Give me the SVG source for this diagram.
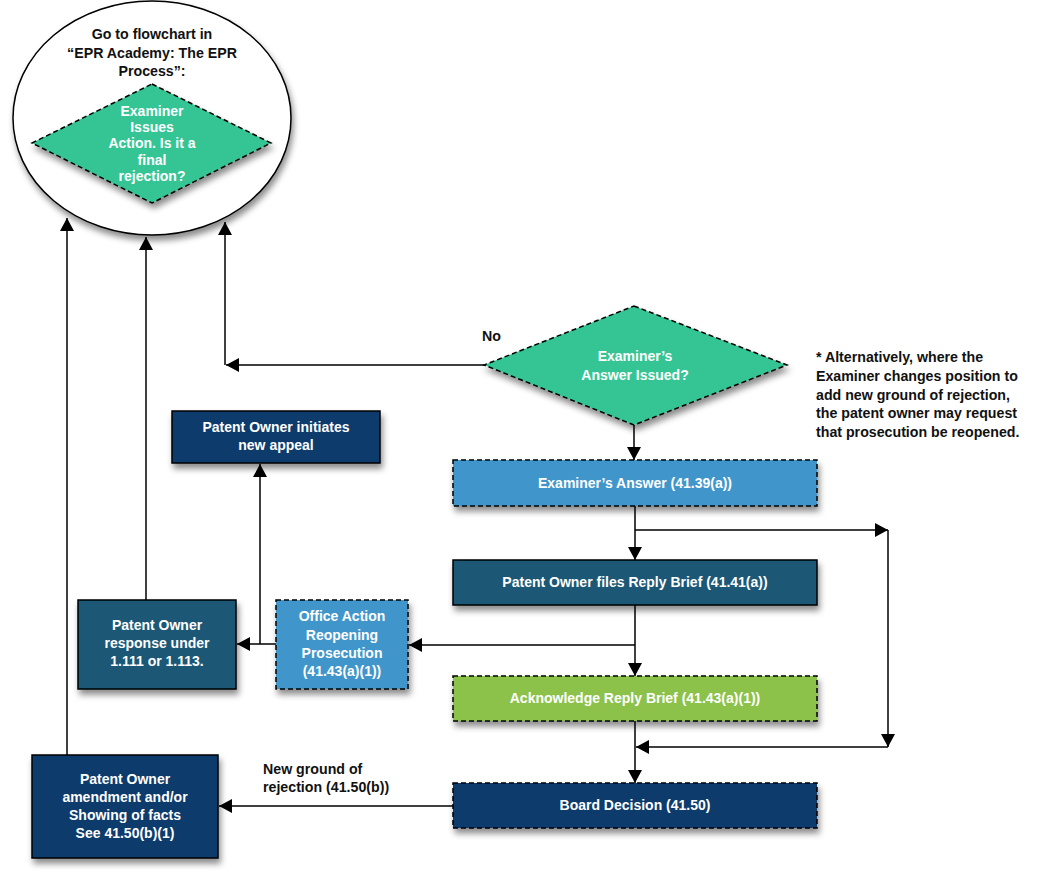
<svg xmlns="http://www.w3.org/2000/svg" width="1044" height="878" viewBox="0 0 1044 878">
<defs>
<filter id="sh" x="-20%" y="-20%" width="140%" height="150%">
<feDropShadow dx="2" dy="5" stdDeviation="3" flood-color="#000" flood-opacity="0.45"/>
</filter>
<marker id="ah" markerWidth="14" markerHeight="14" refX="13" refY="7" orient="auto" markerUnits="userSpaceOnUse">
<path d="M0,0 L13,7 L0,14 Z" fill="#000"/>
</marker>
<style>
.t{font-family:"Liberation Sans",Arial,sans-serif;font-weight:bold;font-size:14px;text-anchor:middle;fill:#fff}
.k{font-family:"Liberation Sans",Arial,sans-serif;font-weight:bold;font-size:14.2px;fill:#111}
.c{stroke:#000;stroke-width:1.5;fill:none}
.ca{stroke:#000;stroke-width:1.5;fill:none;marker-end:url(#ah)}
.dash{stroke:#000;stroke-width:1.5;stroke-dasharray:5,3}
.solid{stroke:#000;stroke-width:1.5}
.green{fill:#34C594}
.lblue{fill:#4196CB}
.teal{fill:#1A5876}
.navy{fill:#0C3B6C}
.lime{fill:#8CC24A}
</style>
</defs>
<rect width="1044" height="878" fill="#fff"/>

<g id="connectors">
<path class="ca" d="M67,755 L67,218"/>
<path class="ca" d="M146,600 L146,237"/>
<path class="ca" d="M484,365 L226,365"/>
<path class="ca" d="M225,365 L225,222"/>
<path class="ca" d="M634,425 L634,460"/>
<path class="ca" d="M635,506 L635,560"/>
<path class="ca" d="M635,530 L888,530"/>
<path class="ca" d="M888,530 L888,747"/>
<path class="ca" d="M888,747 L636,747"/>
<path class="ca" d="M635,605 L635,676"/>
<path class="ca" d="M635,645 L409,645"/>
<path class="ca" d="M635,721 L635,783"/>
<path class="ca" d="M453,806 L219,806"/>
<path class="ca" d="M276,644 L237,644"/>
<path class="ca" d="M260,644 L260,464"/>
</g>

<g id="goto-circle">
<ellipse cx="152" cy="118" rx="139" ry="117" fill="#fff" class="solid" filter="url(#sh)"/>
<text class="k" text-anchor="middle" font-size="14.5" x="152" y="39">Go to flowchart in</text>
<text class="k" text-anchor="middle" font-size="14.5" x="152" y="58">“EPR Academy: The EPR</text>
<text class="k" text-anchor="middle" font-size="14.5" x="152" y="76">Process”:</text>
</g>

<g id="final-rejection">
<polygon points="152,84 271,143 152,203 32,143" class="green dash" filter="url(#sh)"/>
<text class="t" font-size="12.5"><tspan x="152" y="116">Examiner</tspan><tspan x="152" y="132">Issues</tspan><tspan x="152" y="148">Action. Is it a</tspan><tspan x="152" y="165">final</tspan><tspan x="152" y="181">rejection?</tspan></text>
</g>

<g id="no-label"><text class="k" x="482" y="341">No</text></g>

<g id="answer-issued">
<polygon points="634,306 787,365 634,425 484,365" class="green dash" filter="url(#sh)"/>
<text class="t"><tspan x="635" y="361">Examiner’s</tspan><tspan x="635" y="380">Answer Issued?</tspan></text>
</g>

<g id="note">
<text class="k"><tspan x="816" y="362">* Alternatively, where the</tspan><tspan x="816" y="381">Examiner changes position to</tspan><tspan x="816" y="400">add new ground of rejection,</tspan><tspan x="816" y="418">the patent owner may request</tspan><tspan x="816" y="437">that prosecution be reopened.</tspan></text>
</g>

<g id="examiners-answer">
<rect x="453" y="460" width="364" height="46" class="lblue dash" filter="url(#sh)"/>
<text class="t" x="635" y="488">Examiner’s Answer (41.39(a))</text>
</g>

<g id="reply-brief">
<rect x="453" y="560" width="364" height="45" class="teal solid" filter="url(#sh)"/>
<text class="t" x="635" y="587">Patent Owner files Reply Brief (41.41(a))</text>
</g>

<g id="acknowledge">
<rect x="453" y="676" width="364" height="45" class="lime dash" filter="url(#sh)"/>
<text class="t" x="635" y="703">Acknowledge Reply Brief (41.43(a)(1))</text>
</g>

<g id="board-decision">
<rect x="453" y="783" width="364" height="45" class="navy dash" filter="url(#sh)"/>
<text class="t" x="635" y="810">Board Decision (41.50)</text>
</g>

<g id="new-ground-label">
<text class="k"><tspan x="263" y="774">New ground of</tspan><tspan x="263" y="792">rejection (41.50(b))</tspan></text>
</g>

<g id="amendment">
<rect x="32" y="755" width="186" height="103" class="navy solid" filter="url(#sh)"/>
<text class="t"><tspan x="125" y="784">Patent Owner</tspan><tspan x="125" y="802">amendment and/or</tspan><tspan x="125" y="820">Showing of facts</tspan><tspan x="125" y="838">See 41.50(b)(1)</tspan></text>
</g>

<g id="office-action">
<rect x="276" y="600" width="132" height="89" class="lblue dash" filter="url(#sh)"/>
<text class="t"><tspan x="342" y="621">Office Action</tspan><tspan x="342" y="640">Reopening</tspan><tspan x="342" y="658">Prosecution</tspan><tspan x="342" y="676">(41.43(a)(1))</tspan></text>
</g>

<g id="response">
<rect x="78" y="600" width="158" height="89" class="teal solid" filter="url(#sh)"/>
<text class="t"><tspan x="157" y="630">Patent Owner</tspan><tspan x="157" y="648">response under</tspan><tspan x="157" y="666">1.111 or 1.113.</tspan></text>
</g>

<g id="new-appeal">
<rect x="172" y="411" width="208" height="52" class="navy solid" filter="url(#sh)"/>
<text class="t"><tspan x="276" y="432">Patent Owner initiates</tspan><tspan x="276" y="450">new appeal</tspan></text>
</g>
</svg>
